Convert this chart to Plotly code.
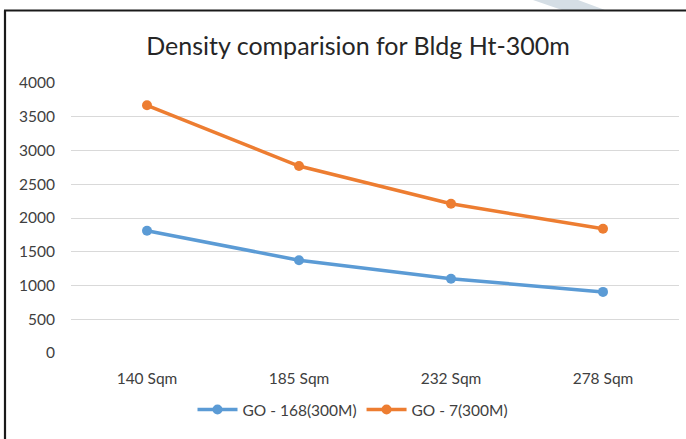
import plotly.graph_objects as go

categories = ["140 Sqm", "185 Sqm", "232 Sqm", "278 Sqm"]
go168 = [1810, 1375, 1100, 905]
go7 = [3670, 2770, 2210, 1840]
series_names = ["GO - 168(300M)", "GO - 7(300M)"]
colors = ["#5B9BD5", "#ED7D31"]

W, H = 686, 439
L, R, T, B = 71, 679, 83, 353  # plot area in pixels

def px_x(p):
    return (p - L) / (R - L)

def px_y(p):
    return (B - p) / (B - T)

fig = go.Figure()
for name, vals, c in zip(series_names, [go168, go7], colors):
    fig.add_trace(go.Scatter(
        x=categories, y=vals, name=name, mode="lines+markers",
        line=dict(color=c, width=3.5),
        marker=dict(color=c, size=10),
    ))

font = "Lato, 'Open Sans', sans-serif"
fig.update_layout(
    width=W, height=H,
    margin=dict(l=L, r=W - R, t=T, b=H - B, autoexpand=False),
    paper_bgcolor="white", plot_bgcolor="white",
    font=dict(family=font, color="#595959", size=15),
    title=dict(text="Density comparision for Bldg Ht-300m",
               x=358 / W, xref="container",
               y=1 - 46 / H, yref="container",
               xanchor="center", yanchor="middle",
               font=dict(family=font, size=25, color="#262626")),
    showlegend=True,
    legend=dict(orientation="h", x=px_x(353), y=px_y(410),
                xanchor="center", yanchor="middle",
                font=dict(family=font, size=15.5, color="#404040"),
                itemwidth=40),
    xaxis=dict(range=[-0.5, 3.5], showgrid=False, showline=False, ticks="",
               automargin=False,
               ticklabelstandoff=14, tickfont=dict(size=15.5, color="#404040")),
    yaxis=dict(range=[0, 4000], dtick=500, showgrid=True,
               gridcolor="#D9D9D9", gridwidth=1.3, zeroline=False,
               automargin=False,
               showline=False, ticks="", ticklabelstandoff=15,
               tickfont=dict(size=15.5, color="#404040")),
    shapes=[
        # faint watermark band at top right
        dict(type="path", xref="paper", yref="paper",
             path=f"M {px_x(533)} {px_y(0)} L {px_x(578)} {px_y(0)} L {px_x(605)} {px_y(10)} L {px_x(562)} {px_y(10)} Z",
             fillcolor="#D5DEE5", line=dict(width=0), layer="below"),
        # chart border (left and top)
        dict(type="line", xref="paper", yref="paper",
             x0=px_x(5), x1=px_x(5), y0=px_y(10.5), y1=px_y(445),
             line=dict(color="#1a1a1a", width=2.2)),
        dict(type="line", xref="paper", yref="paper",
             x0=px_x(4), x1=px_x(690), y0=px_y(10.5), y1=px_y(10.5),
             line=dict(color="#1a1a1a", width=2.2)),
    ],
)

fig.write_html(
    "out.html",
    config={"displayModeBar": False},
    post_script="document.body.style.margin='0';document.body.style.overflow='hidden';",
)
